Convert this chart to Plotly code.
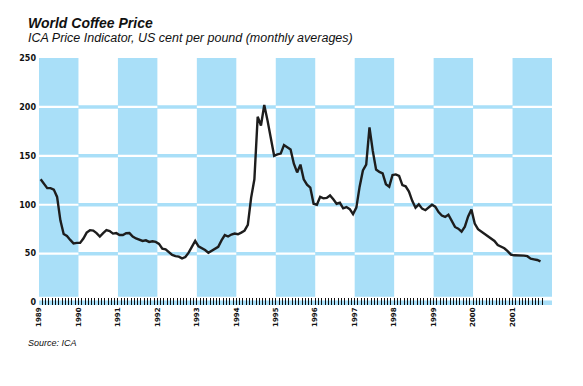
import plotly.graph_objects as go

# ---- data ----
start_year = 1989
price = [
    126, 121, 117, 117, 115.5, 108, 84, 70, 68, 64, 60.5, 61,          # 1989
    61, 65.5, 71.5, 74, 73.5, 71, 67.5, 71, 74, 73, 70.5, 71,          # 1990
    69, 69, 70.8, 71, 67.5, 65.5, 64, 63, 63.6, 62, 62.6, 62,          # 1991
    60, 55, 54.3, 51.5, 48.7, 47.5, 47, 45.2, 46.5, 51, 56.3, 63,      # 1992
    57.5, 55.7, 53.7, 51, 52.8, 54.5, 57, 63.5, 69, 67.5, 69.5, 70.5,  # 1993
    69.8, 71.5, 73.5, 79.5, 107, 126, 190, 181, 202, 186, 168, 150,    # 1994
    151.5, 152.3, 161, 159, 156.5, 142, 133, 141, 126, 120.5, 117.6, 101,  # 1995
    100, 108, 106.5, 107, 109.5, 105.5, 101, 102, 96.3, 97.6, 95.5, 90.4,  # 1996
    97, 118.5, 135, 141, 179, 155, 136, 133.5, 132, 121, 118.5, 130.4,     # 1997
    131, 129.5, 120, 118.8, 113.5, 104, 97, 100.4, 96, 94.4, 97, 100,      # 1998
    98, 92.5, 89, 87.5, 89.8, 84, 77.3, 75.5, 72.5, 77.5, 88, 95,          # 1999
    80.7, 75, 72.5, 70, 68, 65, 63, 58.8, 57, 55.5, 52.5, 49,              # 2000
    48.3, 48.4, 48, 48, 47.4, 44.8, 44.2, 43.5, 42,                        # 2001
]
year_labels = [str(y) for y in range(1989, 2002)]
grid_values = [50, 100, 150, 200]
y_ticks = [0, 50, 100, 150, 200, 250]
n_tick_months = 154

# mid-month positions in decimal years
x_vals = [start_year + (i + 0.5) / 12 for i in range(len(price))]
month_ticks = [start_year + k / 12 for k in range(n_tick_months)]
year_ticks = [int(y) for y in year_labels]

BLUE = "#A9DFF8"
LINE = "#1d1d1d"

# page body has an 8px margin -> shift everything up/left by 8px
OFF = 8
W, H = 583, 386
L, T = 39 - OFF, 58 - OFF
R = W - (552.5 - OFF)
B = H - (305 - OFF)
Y_MIN, Y_MAX = -2.5, 250
X_MIN, X_MAX = 1989, 2002

def px_to_paper_y(py):
    return (H - B - (py - OFF)) / (H - T - B)

def px_to_paper_x(px):
    return ((px - OFF) - L) / (W - L - R)

shapes = []
# full-width blue gridlines
for g in grid_values:
    shapes.append(dict(type="line", xref="x", yref="y", x0=X_MIN, x1=X_MAX, y0=g, y1=g,
                       line=dict(color=BLUE, width=3.5), layer="below"))
# baseline strip
shapes.append(dict(type="rect", xref="x", yref="y", x0=X_MIN, x1=X_MAX, y0=Y_MIN, y1=2,
                   fillcolor=BLUE, line=dict(width=0), layer="below"))
# bands on odd years, with white gridlines across them
for y in year_ticks:
    if (y - 1989) % 2 == 0:
        shapes.append(dict(type="rect", xref="x", yref="y", x0=y, x1=y + 1, y0=6, y1=Y_MAX,
                           fillcolor=BLUE, line=dict(width=0), layer="below"))
        for g in grid_values:
            shapes.append(dict(type="line", xref="x", yref="y", x0=y, x1=y + 1, y0=g, y1=g,
                               line=dict(color="white", width=2.2), layer="below"))

fig = go.Figure()
fig.add_trace(go.Scatter(x=x_vals, y=price, mode="lines",
                         line=dict(color=LINE, width=2.4), hoverinfo="skip",
                         showlegend=False))

fig.update_layout(
    width=W, height=H,
    margin=dict(l=L, r=R, t=T, b=B, pad=0, autoexpand=False),
    paper_bgcolor="white", plot_bgcolor="white",
    shapes=shapes,
    xaxis=dict(range=[X_MIN, X_MAX], showgrid=False, zeroline=False, showline=False,
               automargin=False,
               tickmode="array", tickvals=year_ticks, ticktext=year_labels,
               tickangle=-90, ticks="inside", ticklen=7, tickwidth=1.3, tickcolor="#111",
               tickfont=dict(family="DejaVu Sans", size=7, color="#111", weight="bold"),
               minor=dict(tickmode="array", tickvals=month_ticks, ticks="inside",
                          ticklen=7, tickwidth=1.3, tickcolor="#111", showgrid=False),
               fixedrange=True),
    yaxis=dict(range=[Y_MIN, Y_MAX], showgrid=False, zeroline=False, showline=False,
               automargin=False,
               tickmode="array", tickvals=y_ticks, ticks="",
               tickfont=dict(family="DejaVu Sans", size=8, color="#111", weight="bold"),
               ticklabelstandoff=2, fixedrange=True),
    annotations=[
        dict(text="<b><i>World Coffee Price</i></b>", xref="paper", yref="paper",
             x=px_to_paper_x(26), y=px_to_paper_y(22.5), xanchor="left", yanchor="middle",
             showarrow=False, font=dict(family="Liberation Sans", size=14, color="#111")),
        dict(text="<i>ICA Price Indicator, US cent per pound (monthly averages)</i>",
             xref="paper", yref="paper",
             x=px_to_paper_x(26), y=px_to_paper_y(37.5), xanchor="left", yanchor="middle",
             showarrow=False, font=dict(family="Liberation Sans", size=12.5, color="#111")),
        dict(text="<i>Source: ICA</i>", xref="paper", yref="paper",
             x=px_to_paper_x(26), y=px_to_paper_y(343), xanchor="left", yanchor="middle",
             showarrow=False, font=dict(family="Liberation Sans", size=9, color="#111")),
    ],
)

fig.write_html("out.html", config={"displayModeBar": False})
